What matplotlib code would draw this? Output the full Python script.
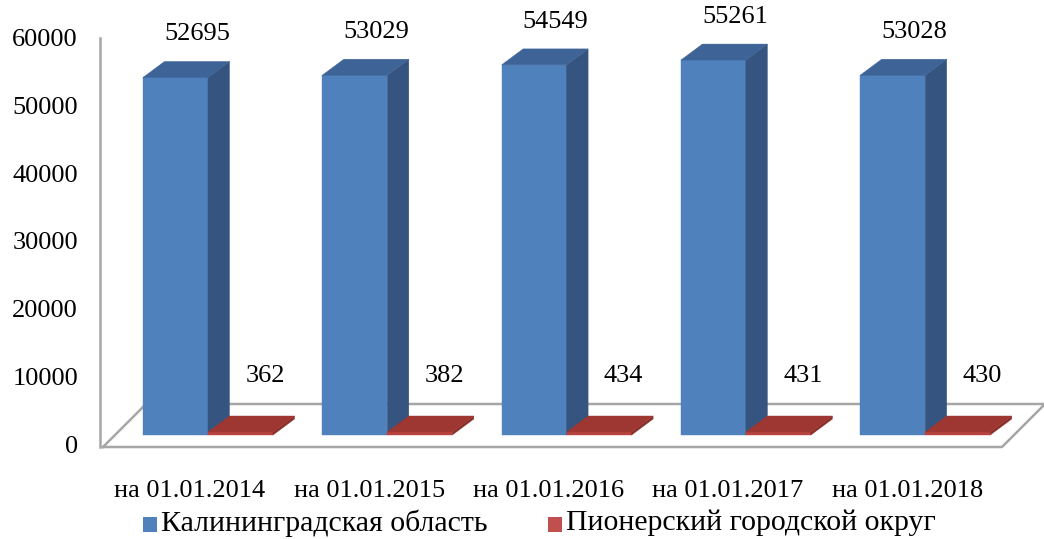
import matplotlib
matplotlib.use("Agg")
import matplotlib.pyplot as plt
from matplotlib.patches import Polygon, Rectangle
from matplotlib.lines import Line2D

# ---- data ----
categories = ["на 01.01.2014", "на 01.01.2015", "на 01.01.2016", "на 01.01.2017", "на 01.01.2018"]
kaliningrad = [52695, 53029, 54549, 55261, 53028]
pionersky = [362, 382, 434, 431, 430]
series_names = ["Калининградская область", "Пионерский городской округ"]
yticks = [0, 10000, 20000, 30000, 40000, 50000, 60000]

# ---- style ----
plt.rcParams['font.family'] = ['Liberation Serif', 'DejaVu Serif']
FS = 19
FS_LEG = 21.5
blue_front, blue_side, blue_top = "#4F81BD", "#35547F", "#3E6497"
red_front, red_side, red_top = "#B8433F", "#8A2E2A", "#9E3631"
grid_col = "#A6A6A6"

W, H = 1044, 539
fig = plt.figure(figsize=(W / 100, H / 100), dpi=100)
ax = fig.add_axes([0, 0, 1, 1])
ax.axis("off")

# scales: x in category units, y in value units
PX_X = 179.3            # pixels per category
PX_Y = 67.85 / 10000    # pixels per value unit
x0_pix, y0_pix = 190, 447
ax.set_xlim((0 - x0_pix) / PX_X, (W - x0_pix) / PX_X)
ax.set_ylim(-(H - y0_pix) / PX_Y, y0_pix / PX_Y)

def px(dx):   # pixel distance -> x units
    return dx / PX_X
def py(dy):   # pixel distance -> y units
    return dy / PX_Y

bw = px(65)
ddx, ddy = px(21.5), py(16)
base = py(12)
blue_left = px(-47)

# floor
fdx, fdy = px(43), py(43)
fl, fr = px(-87), px(812)
ax.add_line(Line2D([fl, fr, fr + fdx, fl + fdx, fl], [0, 0, fdy, fdy, 0],
                   color=grid_col, lw=1.8, zorder=1))
ax.add_line(Line2D([fl + px(-3), fl + px(-3)], [0, 60300], color=grid_col, lw=1.8, zorder=1))

def bar3d(xl, h, cf, cs, ct, z):
    xr = xl + bw
    b = base
    ax.add_patch(Polygon([(xl, b), (xr, b), (xr, b + h), (xl, b + h)], closed=True,
                         facecolor=cf, edgecolor=cf, lw=0.3, zorder=z))
    ax.add_patch(Polygon([(xr, b), (xr + ddx, b + ddy), (xr + ddx, b + h + ddy), (xr, b + h)],
                         closed=True, facecolor=cs, edgecolor=cs, lw=0.3, zorder=z))
    ax.add_patch(Polygon([(xl, b + h), (xr, b + h), (xr + ddx, b + h + ddy), (xl + ddx, b + h + ddy)],
                         closed=True, facecolor=ct, edgecolor=ct, lw=0.3, zorder=z))
    return (xl + xr) / 2 + ddx, b + h + ddy

for i, (k, p) in enumerate(zip(kaliningrad, pionersky)):
    xl = i + blue_left
    cx, ty = bar3d(xl, k, blue_front, blue_side, blue_top, 3 + 2 * i)
    ax.text(cx, ty + py(27), str(k), ha="center", va="center", fontsize=FS, zorder=20)
    cx2, ty2 = bar3d(xl + bw, max(p, py(3)), red_front, red_side, red_top, 4 + 2 * i)
    ax.text(cx2 + px(3), ty2 + py(40), str(p), ha="center", va="center", fontsize=FS, zorder=20)

# y tick labels
for t in yticks:
    ax.text(px(-112), t, str(t), ha="right", va="center", fontsize=FS)

# category labels
for i, c in enumerate(categories):
    ax.text(i, py(-44), c, ha="center", va="center", fontsize=FS)

# legend
def fig_xy(x, y):
    return x / W, 1 - y / H
leg = [(143, series_names[0], blue_front), (548, series_names[1], "#C0504D")]
for xs, name, col in leg:
    fx, fy = fig_xy(xs, 532)
    fig.add_artist(Rectangle((fx, fy), 14 / W, 15 / H, transform=fig.transFigure,
                             facecolor=col, edgecolor="none"))
    tx, ty = fig_xy(xs + 18, 523)
    fig.text(tx, ty, name, ha="left", va="center", fontsize=FS_LEG)

fig.savefig("out.png", dpi=100)
